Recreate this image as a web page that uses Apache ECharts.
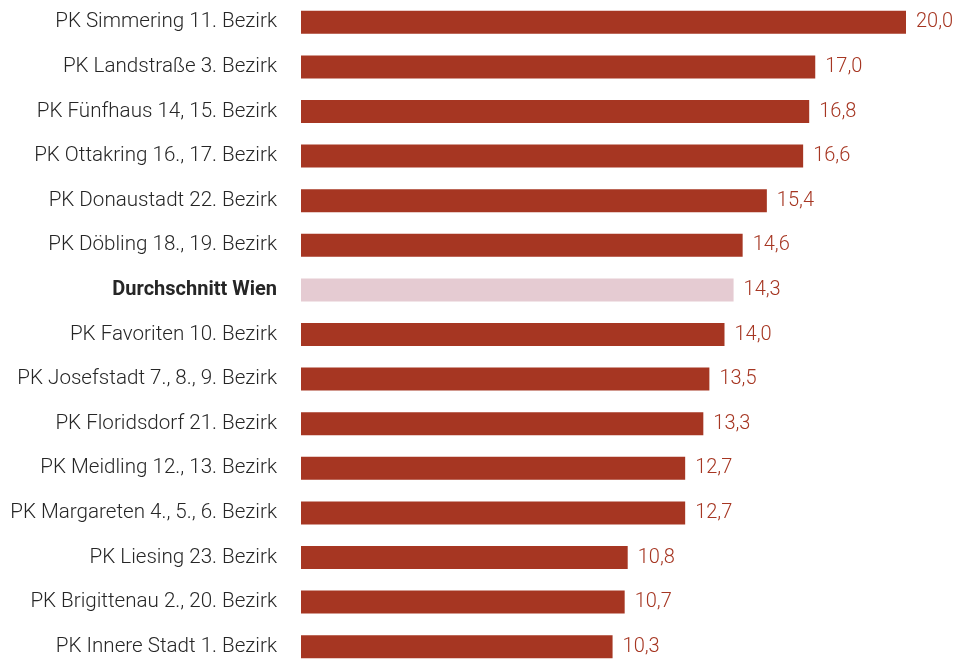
<!DOCTYPE html>
<html>
<head>
<meta charset="utf-8">
<script src="https://cdn.jsdelivr.net/npm/echarts@6/dist/echarts.min.js"></script>
<style>
    html, body { margin: 0; padding: 0; background: #fff; }
    #chart { width: 958px; height: 660px; }
</style>
</head>
<body>
<div id="chart"></div>
<script>
const categories = [
    'PK Simmering 11. Bezirk',
    'PK Landstraße 3. Bezirk',
    'PK Fünfhaus 14, 15. Bezirk',
    'PK Ottakring 16., 17. Bezirk',
    'PK Donaustadt 22. Bezirk',
    'PK Döbling 18., 19. Bezirk',
    'Durchschnitt Wien',
    'PK Favoriten 10. Bezirk',
    'PK Josefstadt 7., 8., 9. Bezirk',
    'PK Floridsdorf 21. Bezirk',
    'PK Meidling 12., 13. Bezirk',
    'PK Margareten 4., 5., 6. Bezirk',
    'PK Liesing 23. Bezirk',
    'PK Brigittenau 2., 20. Bezirk',
    'PK Innere Stadt 1. Bezirk'
];
const values = [20.0, 17.0, 16.8, 16.6, 15.4, 14.6, 14.3, 14.0, 13.5, 13.3, 12.7, 12.7, 10.8, 10.7, 10.3];
const highlight = 'Durchschnitt Wien';

const barColor = '#a63622';
const avgColor = '#e5cbd2';

const chart = echarts.init(document.getElementById('chart'));

const option = {
    animation: false,
    textStyle: { fontFamily: 'Roboto' },
    grid: { left: 301, top: 0, width: 605, height: 669, outerBoundsMode: 'none' },
    xAxis: {
        type: 'value',
        min: 0,
        max: 20,
        show: false
    },
    yAxis: {
        type: 'category',
        inverse: true,
        data: categories,
        axisLine: { show: false },
        axisTick: { show: false },
        axisLabel: {
            margin: 24,
            fontFamily: 'Roboto',
            fontSize: 20.6,
            fontWeight: 300,
            color: '#262626',
            formatter: function (v) {
                return v === highlight ? '{b|' + v + '}' : v;
            },
            rich: {
                b: { fontWeight: 'bold', fontSize: 20, color: '#262626', fontFamily: 'Roboto' }
            }
        }
    },
    series: [{
        type: 'bar',
        barWidth: 23,
        data: values.map(function (v, i) {
            return {
                value: v,
                itemStyle: { color: categories[i] === highlight ? avgColor : barColor }
            };
        }),
        label: {
            show: true,
            position: 'right',
            distance: 10,
            fontFamily: 'Roboto',
            fontSize: 20,
            fontWeight: 300,
            color: barColor,
            formatter: function (p) {
                return p.value.toFixed(1).replace('.', ',');
            }
        }
    }]
};

chart.setOption(option);
</script>
</body>
</html>
